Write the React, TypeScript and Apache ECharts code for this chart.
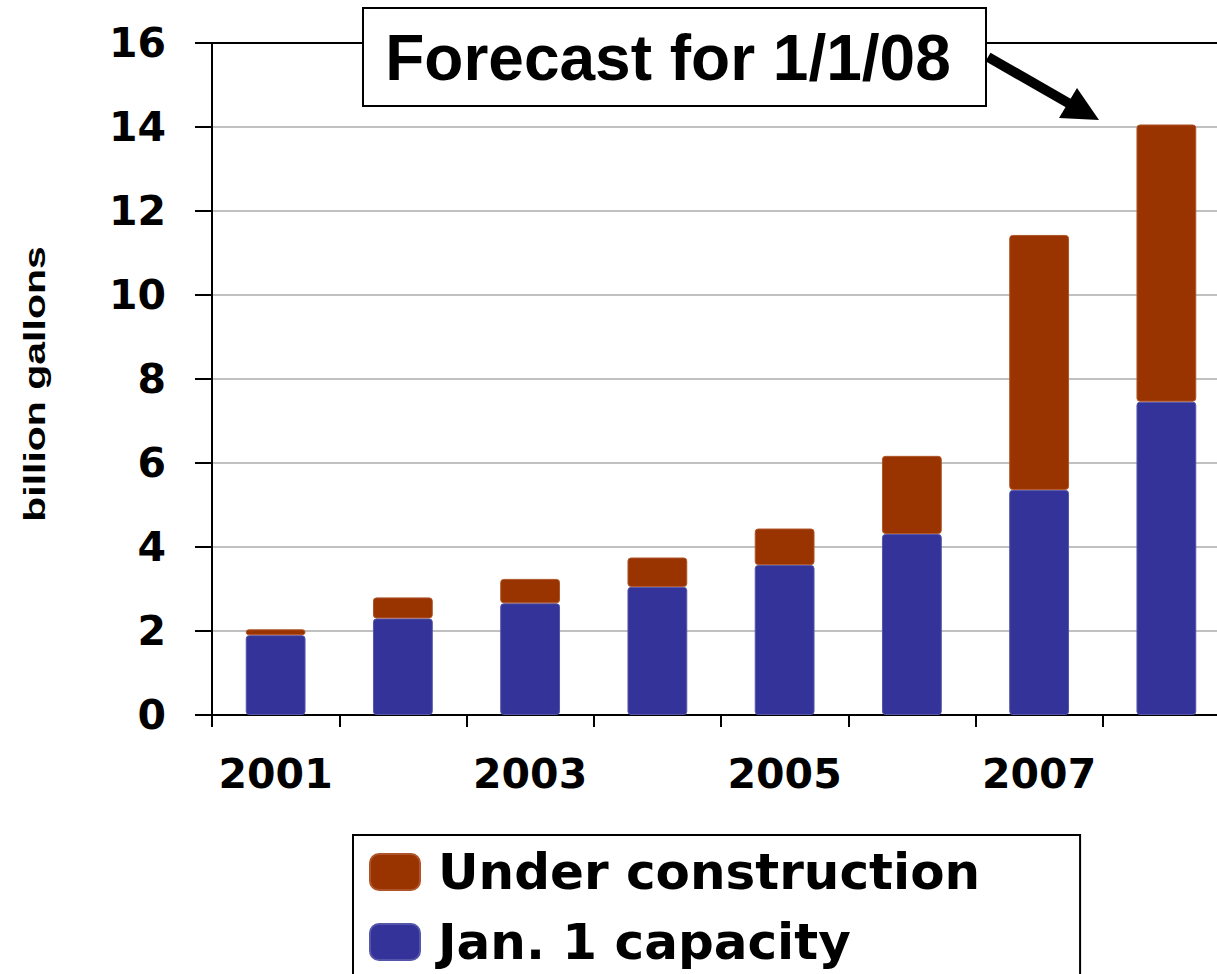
import React, { useEffect, useRef } from "react";
import * as echarts from "echarts";

const categories = ["2001", "2002", "2003", "2004", "2005", "2006", "2007", "2008"];
const janCapacity = [1.9, 2.3, 2.66, 3.05, 3.57, 4.31, 5.36, 7.46];
const underConstruction = [0.14, 0.5, 0.58, 0.7, 0.87, 1.86, 6.07, 6.6];
const yTicks = { min: 0, max: 16, interval: 2 };
const seriesNames = ["Jan. 1 capacity", "Under construction"];
const annotationText = "Forecast for 1/1/08";
const yAxisTitle = "billion gallons";

const BLUE = "#333399";
const BROWN = "#993300";

export default function App() {
  const ref = useRef<HTMLDivElement>(null);

  useEffect(() => {
    if (!ref.current) return;
    const chart = echarts.init(ref.current, null, { renderer: "svg" });
    const axisFont = {
      fontFamily: "DejaVu Sans",
      fontWeight: "bold" as const,
      fontSize: 41,
      color: "#000",
    };
    chart.setOption({
      animation: false,
      backgroundColor: "#fff",
      grid: {
        left: 212,
        width: 1018,
        top: 43,
        height: 672,
        containLabel: false,
        outerBoundsMode: "none",
      },
      xAxis: [
        {
          type: "category",
          data: categories,
          boundaryGap: true,
          axisLine: { lineStyle: { color: "#000", width: 2 } },
          axisTick: { show: true, interval: 0, length: 12, lineStyle: { color: "#000", width: 2 } },
          axisLabel: { ...axisFont, interval: 1, margin: 38 },
          splitLine: { show: false },
        },
        {
          type: "category",
          data: categories,
          position: "top",
          axisLine: { show: true, lineStyle: { color: "#000", width: 2 } },
          axisTick: { show: false },
          axisLabel: { show: false },
          splitLine: { show: false },
        },
      ],
      yAxis: {
        type: "value",
        min: yTicks.min,
        max: yTicks.max,
        interval: yTicks.interval,
        axisLine: { show: true, lineStyle: { color: "#000", width: 2 } },
        axisTick: { show: true, inside: false, length: 17, lineStyle: { color: "#000", width: 2 } },
        axisLabel: { ...axisFont, margin: 46 },
        splitLine: { show: true, lineStyle: { color: "#c0c0c0", width: 2 } },
      },
      legend: {
        data: [seriesNames[1], seriesNames[0]],
        orient: "vertical",
        left: 353,
        top: 835,
        width: 700,
        height: 160,
        icon: "roundRect",
        itemWidth: 50,
        itemHeight: 36,
        itemGap: 20,
        padding: [12, 100, 30, 16],
        borderColor: "#000",
        borderWidth: 2,
        backgroundColor: "#fff",
        selectedMode: false,
        textStyle: {
          fontFamily: "DejaVu Sans",
          fontWeight: "bold",
          fontSize: 50,
          lineHeight: 50,
          color: "#000",
          padding: [0, 0, 0, 13],
        },
      },
      series: [
        {
          name: seriesNames[0],
          type: "bar",
          stack: "total",
          barWidth: "47%",
          data: janCapacity,
          itemStyle: { color: BLUE, borderRadius: 3, borderColor: "#5555aa", borderWidth: 1 },
        },
        {
          name: seriesNames[1],
          type: "bar",
          stack: "total",
          barWidth: "47%",
          data: underConstruction,
          itemStyle: { color: BROWN, borderRadius: 3, borderColor: "#b0552a", borderWidth: 1 },
        },
      ],
      graphic: [
        {
          type: "text",
          x: 35,
          y: 384,
          rotation: Math.PI / 2,
          scaleY: 0.7,
          style: {
            text: yAxisTitle,
            fontFamily: "Liberation Sans",
            fontWeight: "bold",
            fontSize: 41,
            fill: "#000",
            align: "center",
            verticalAlign: "middle",
          },
          z: 10,
        },
        {
          type: "rect",
          shape: { x: 363, y: 8, width: 623, height: 98 },
          style: { fill: "#fff", stroke: "#000", lineWidth: 2 },
          z: 10,
        },
        {
          type: "text",
          x: 668,
          y: 58,
          style: {
            text: annotationText,
            fontFamily: "Liberation Sans",
            fontWeight: "bold",
            fontSize: 64,
            fill: "#000",
            align: "center",
            verticalAlign: "middle",
          },
          z: 11,
        },
        {
          type: "line",
          shape: { x1: 988, y1: 57, x2: 1070, y2: 104 },
          style: { stroke: "#000", lineWidth: 10 },
          z: 10,
        },
        {
          type: "polygon",
          shape: { points: [[1059, 118], [1077, 88], [1099, 120]] },
          style: { fill: "#000" },
          z: 10,
        },
      ],
    });
    return () => chart.dispose();
  }, []);

  return (
    <div
      ref={ref}
      style={{ position: "absolute", left: 0, top: 0, width: 1217, height: 974 }}
    />
  );
}
